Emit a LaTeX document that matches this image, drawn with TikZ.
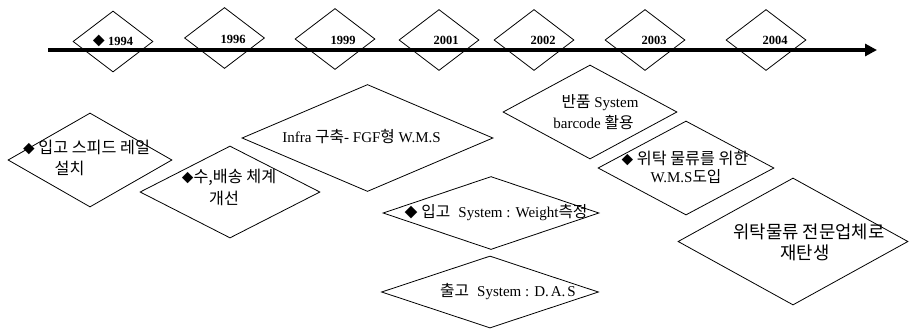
\documentclass[tikz,border=0pt]{standalone}
\usepackage{fontspec}
\setmainfont{Liberation Serif}
% Korean for lines set only in Hangul
\newfontfamily\kr[Scale=1.2]{Noto Sans CJK KR}
% Korean inside lines mixed with Latin words
\newfontfamily\krm[Scale=1.05]{Noto Sans CJK KR}
\newcommand{\bullmark}{{\kr\scalebox{0.72}{◆}}}
\usetikzlibrary{shapes.geometric,arrows.meta}
\begin{document}
\begin{tikzpicture}[x=1pt,y=-1pt,
  outline/.style={draw, shape=diamond, inner sep=0pt, line width=0.8pt},
  yearbox/.style={outline, minimum width=80pt, minimum height=61pt},
  yeartext/.style={font=\fontsize{12.5}{14}\selectfont\bfseries, inner sep=0pt},
  eventtext/.style={font=\fontsize{13.5}{16}\selectfont, inner sep=0pt},
  mixedtext/.style={font=\fontsize{15}{17}\selectfont, inner sep=0pt},
  bigtext/.style={font=\fontsize{14.8}{16}\selectfont, inner sep=0pt},
  timeline/.style={line width=3.5pt, -{Triangle[length=12pt,width=12pt]}},
]
\useasboundingbox (0,0) rectangle (909,330);

% time axis
\coordinate (axisstart) at (48,50);
\coordinate (axisend) at (877,50);
\draw[timeline] (axisstart) -- (axisend);

% year markers on the axis
\node[yearbox] (y1994) at (113,41.5) {};
\node[yearbox] (y1996) at (224.5,38) {};
\node[yearbox] (y1999) at (335,39) {};
\node[yearbox] (y2001) at (439,40) {};
\node[yearbox] (y2002) at (534,40) {};
\node[yearbox] (y2003) at (645,40) {};
\node[yearbox] (y2004) at (766,40) {};

\node[yeartext] (l1994) at (113,41) {{\kr\fontsize{10}{12}\selectfont ◆} 1994};
\node[yeartext] (l1996) at (233,39) {1996};
\node[yeartext] (l1999) at (343,40) {1999};
\node[yeartext] (l2001) at (446,40) {2001};
\node[yeartext] (l2002) at (543,40) {2002};
\node[yeartext] (l2003) at (654,40) {2003};
\node[yeartext] (l2004) at (775,40) {2004};

% event diamonds
\node[outline, minimum width=164pt, minimum height=94pt] (e1) at (90,160) {};
\node[outline, minimum width=180pt, minimum height=92pt] (e2) at (230,192) {};
\node[outline, minimum width=251pt, minimum height=107pt] (e3) at (367.5,138) {};
\node[outline, minimum width=174pt, minimum height=94pt] (e4) at (590,112) {};
\node[outline, minimum width=176pt, minimum height=94pt] (e5) at (686,168) {};
\node[outline, minimum width=216pt, minimum height=73pt] (e6) at (491,213) {};
\node[outline, minimum width=217pt, minimum height=72pt] (e7) at (490,292) {};
\node[outline, minimum width=230pt, minimum height=127pt] (e8) at (793,241.5) {};

% event texts
\node[eventtext] (t1a) at (86.5,147) {\bullmark{\kr\ 입고 스피드 레일}};
\node[eventtext] (t1b) at (69.5,168) {\kr 설치};
\node[eventtext] (t2a) at (229,177) {\bullmark{\kr 수,배송 체계}};
\node[eventtext] (t2b) at (224,198) {\kr 개선};
\node[mixedtext] (t3) at (361.5,137) {Infra {\krm 구축}- FGF{\krm 형} W.M.S};
\node[mixedtext] (t4a) at (600,103) {{\krm 반품} System};
\node[mixedtext] (t4b) at (593.5,123) {barcode {\krm 활용}};
\node[eventtext] (t5a) at (685,158) {\bullmark{\kr\ 위탁 물류를 위한}};
\node[mixedtext] (t5b) at (686,177) {W.M.S{\krm 도입}};
\node[mixedtext] (t6) at (496,213) {\bullmark\hspace{4pt}{\krm 입고}\hspace{8pt}System : Weight{\krm 측정}};
\node[mixedtext] (t7) at (508,292) {{\krm 출고}\hspace{8pt}System : D.\hspace{2pt}A.\hspace{2pt}S};
\node[bigtext] (t8a) at (809,232) {\kr 위탁물류 전문업체로};
\node[bigtext] (t8b) at (805,253) {\kr 재탄생};
\end{tikzpicture}
\end{document}
